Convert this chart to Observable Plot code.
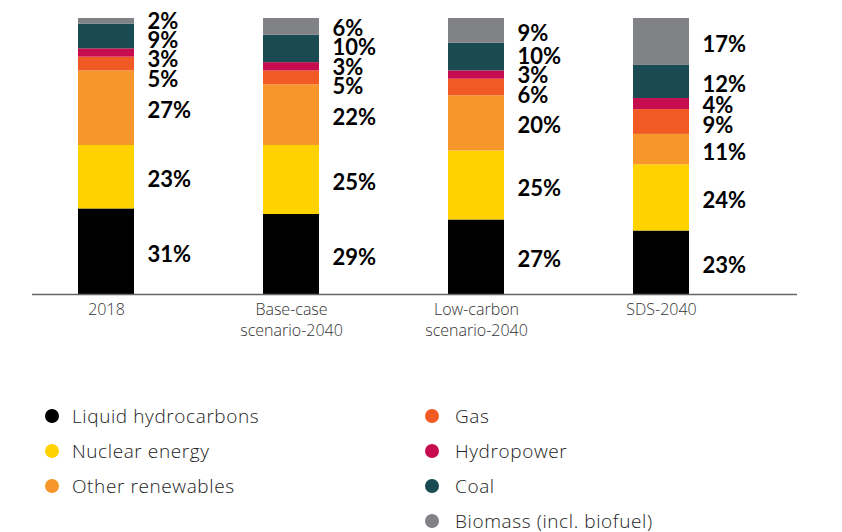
<!DOCTYPE html>
<html>
<head>
<meta charset="utf-8">
<script src="https://cdn.jsdelivr.net/npm/d3@7"></script>
<script src="https://cdn.jsdelivr.net/npm/@observablehq/plot@0.6"></script>
<style>
  html, body { margin: 0; padding: 0; background: #fff; }
  #chart { width: 842px; }
  .legend { position: relative; height: 187px; font-family: "Open Sans", sans-serif; font-weight: 300; color: #222; }
  .col { position: absolute; top: 53px; }
  .item { display: flex; align-items: center; height: 35px; font-size: 19px; letter-spacing: 0.6px; }
  .dot { width: 14px; height: 14px; border-radius: 50%; margin-right: 13px; flex: none; }
  .col.right .dot { margin-right: 16px; }
</style>
</head>
<body>
<div id="chart"></div>
<script>
const categories = ["2018", "Base-case\nscenario-2040", "Low-carbon\nscenario-2040", "SDS-2040"];
const sources = ["Liquid hydrocarbons", "Nuclear energy", "Other renewables", "Gas", "Hydropower", "Coal", "Biomass (incl. biofuel)"];
const colors = ["#000000", "#FFD200", "#F7962A", "#F15A24", "#C60C4E", "#1A4A52", "#808285"];
const liquid  = [31, 29, 27, 23];
const nuclear = [23, 25, 25, 24];
const otherRen = [27, 22, 20, 11];
const gas     = [5, 5, 6, 9];
const hydro   = [3, 3, 3, 4];
const coal    = [9, 10, 10, 12];
const biomass = [2, 6, 9, 17];

const series = [liquid, nuclear, otherRen, gas, hydro, coal, biomass];
const data = [];
sources.forEach((s, i) => categories.forEach((c, j) => data.push({category: c, source: s, value: series[i][j]})));

// label positions: segment centers, de-overlapped
const minGap = 7.0, maxY = 99.9;
const labels = [];
categories.forEach((c, j) => {
  let cum = 0;
  const items = sources.map((s, i) => {
    const v = series[i][j];
    const mid = cum + v / 2; cum += v;
    return {category: c, source: s, value: v, mid};
  });
  let groups = items.map(d => ({items: [d]}));
  const place = g => {
    const n = g.items.length;
    const mean = d3.mean(g.items, d => d.mid);
    let start = mean - (n - 1) * minGap / 2;
    if (start + (n - 1) * minGap > maxY) start = maxY - (n - 1) * minGap;
    g.start = start;
  };
  groups.forEach(place);
  let changed = true;
  while (changed) {
    changed = false;
    for (let k = 0; k < groups.length - 1; k++) {
      const a = groups[k], b = groups[k + 1];
      if (a.start + a.items.length * minGap > b.start) {
        const g = {items: a.items.concat(b.items)};
        place(g);
        groups.splice(k, 2, g);
        changed = true; break;
      }
    }
  }
  groups.forEach(g => g.items.forEach((d, k) => labels.push({...d, ly: g.start + k * minGap})));
});

const plot = Plot.plot({
  width: 842,
  height: 345,
  marginLeft: 32,
  marginRight: 45,
  marginTop: 18,
  marginBottom: 51,
  style: {fontFamily: "'Open Sans', sans-serif", background: "#fff"},
  x: {domain: categories, paddingInner: 0.7, paddingOuter: 0.4065, align: 0.3, label: null},
  y: {domain: [0, 100], axis: null},
  color: {domain: sources, range: colors},
  marks: [
    Plot.barY(data, {x: "category", y: "value", fill: "source", order: sources}),
    Plot.ruleY([0], {stroke: "#666", strokeWidth: 1.3}),
    Plot.axisX({tickSize: 0, tickPadding: 6, fontSize: 16, fontWeight: 300, lineHeight: 1.3, fill: "#333",
      style: "letter-spacing: 0.5px"}),
    Plot.text(labels, {x: "category", y: "ly", text: d => d.value + "%", textAnchor: "start", dx: 41, dy: 3,
      fontSize: 22, fontWeight: "bold", fontFamily: "Lato, sans-serif", fill: "#000"})
  ]
});
document.getElementById("chart").appendChild(plot);

// legend
const legend = document.createElement("div");
legend.className = "legend";
const colDefs = [[0, 1, 2], [3, 4, 5, 6]];
const lefts = [45, 425];
colDefs.forEach((idx, ci) => {
  const col = document.createElement("div");
  col.className = "col" + (ci === 1 ? " right" : "");
  col.style.left = lefts[ci] + "px";
  idx.forEach(i => {
    const it = document.createElement("div");
    it.className = "item";
    const dot = document.createElement("span");
    dot.className = "dot";
    dot.style.background = colors[i];
    it.appendChild(dot);
    it.appendChild(document.createTextNode(sources[i]));
    col.appendChild(it);
  });
  legend.appendChild(col);
});
document.body.appendChild(legend);
</script>
</body>
</html>
